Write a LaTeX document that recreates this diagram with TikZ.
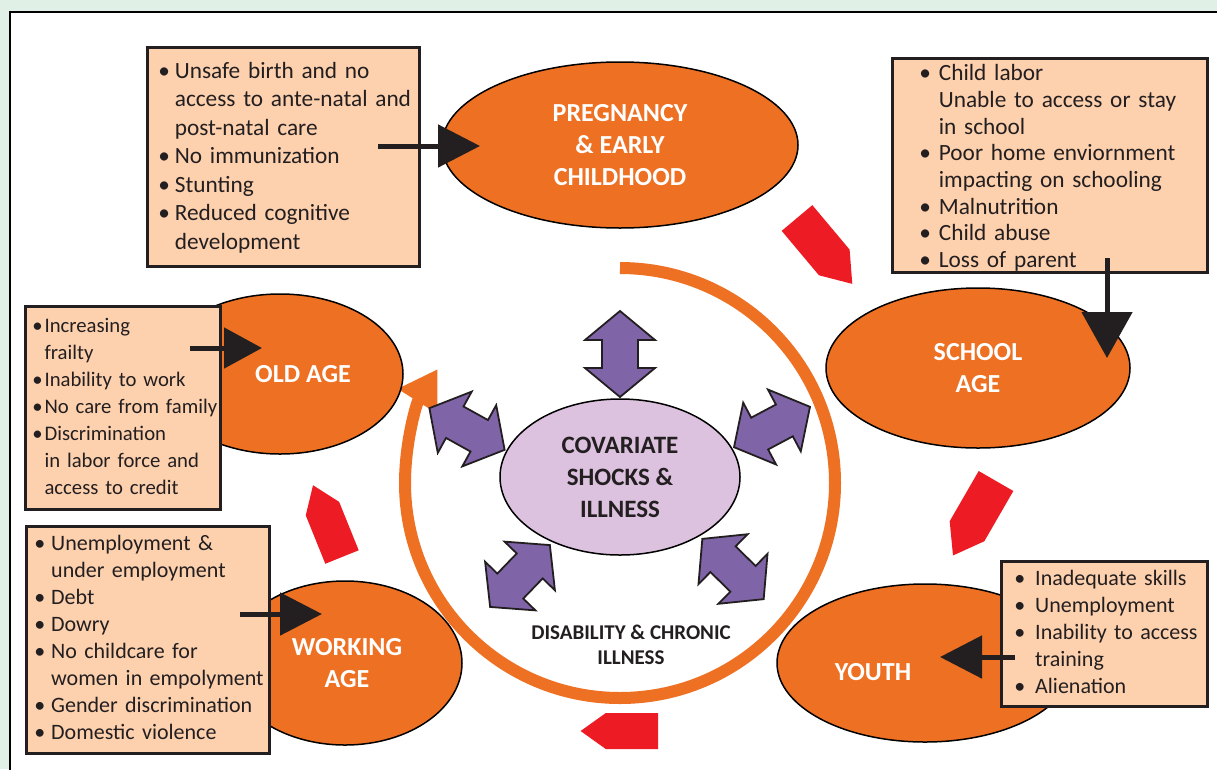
\documentclass[tikz,border=0pt]{standalone}
\usepackage{fontspec}
\setmainfont{Carlito}
\usetikzlibrary{
  shapes.geometric,
  arrows.meta
}

\definecolor{stageorange}{RGB}{238,112,35}
\definecolor{boxpeach}{RGB}{253,208,174}
\definecolor{textdark}{RGB}{35,31,32}
\definecolor{shockpurple}{RGB}{221,194,224}
\definecolor{arrowpurple}{RGB}{128,100,168}
\definecolor{boltred}{RGB}{237,28,36}
\definecolor{bggreen}{RGB}{224,240,230}

\begin{document}
\begin{tikzpicture}[
    x=1pt,y=-1pt,
    stage/.style={ellipse,draw=black,line width=1.5pt,fill=stageorange,inner sep=0pt,
      text=white,align=center,font=\bfseries\fontsize{26}{32}\selectfont},
    stagelabel/.style={text=white,align=center,font=\bfseries\fontsize{26}{32}\selectfont},
    riskbox/.style={draw=textdark,line width=2.5pt,fill=boxpeach,anchor=north west,
      align=left,inner ysep=0pt,text=textdark,font=\fontsize{22}{27}\selectfont},
    pointer/.style={line width=5pt,draw=textdark,-{Triangle[length=42pt,width=42pt]}},
    twoway/.pic={\draw[line width=1.8pt,draw=textdark,fill=arrowpurple]
      (-43,0) -- (-14,-35) -- (-14,-18) -- (14,-18) -- (14,-35) -- (43,0)
      -- (14,35) -- (14,18) -- (-14,18) -- (-14,35) -- cycle;},
    bolt/.pic={\fill[boltred] (0,-20) -- (58,-20) -- (86,0) -- (58,20) -- (0,20) -- cycle;},
  ]
    \useasboundingbox (0,0) rectangle (1217,769);
    \clip (0,0) rectangle (1217,769);
    \fill[bggreen] (0,0) rectangle (1217,769);
    \draw[line width=2.5pt,fill=white] (10,12) rectangle (1240,790);

    % life-cycle ring
    \draw[line width=12pt,stageorange,-{Triangle[length=38pt,width=44pt]}]
      (620,268) arc[start angle=-90,end angle=212,radius=215];

    % red arrows between stages
    \pic[rotate=-50] at (797,218) {bolt};
    \pic[rotate=-120] at (996,481) {bolt};
    \pic[rotate=180,scale=0.9] at (658,731) {bolt};
    \pic[rotate=112,scale=0.9] at (342,557) {bolt};

    % shocks in the middle
    \pic[rotate=90] at (620,354) {twoway};
    \pic[rotate=28] at (772,427) {twoway};
    \pic[rotate=-29] at (467,429) {twoway};
    \pic[rotate=46] at (520,576) {twoway};
    \pic[rotate=-44.5] at (733,569) {twoway};
    \node[ellipse,draw=black,line width=1.5pt,fill=shockpurple,minimum width=240,minimum height=156,
      align=center,text=textdark,font=\bfseries\fontsize{25}{32}\selectfont] (shocks) at (620,477)
      {COVARIATE\\SHOCKS \&\\ILLNESS};
    \node[align=center,text=textdark,font=\bfseries\fontsize{21}{25}\selectfont] (chronic) at (631,645)
      {DISABILITY \& CHRONIC\\ILLNESS};

    % life stages
    \node[stage,minimum width=356,minimum height=166] (early) at (620,145) {PREGNANCY\\\& EARLY\\CHILDHOOD};
    \node[stage,minimum width=304,minimum height=160] (school) at (978,368) {SCHOOL\\AGE};
    \node[stage,minimum width=296,minimum height=158] (youth) at (925,663) {};
    \node[stagelabel] (youthlabel) at (873,672) {YOUTH};
    \node[stage,minimum width=234,minimum height=164] (working) at (345,663) {};
    \node[stagelabel] (workinglabel) at (347,663) {WORKING\\AGE};
    \node[stage,minimum width=246,minimum height=160] (old) at (280,374) {};
    \node[stagelabel] (oldlabel) at (303,374) {OLD AGE};

    % risks at each stage
    \node[riskbox,font=\fontsize{23.3}{28.5}\selectfont,inner xsep=11pt,text width=250pt,minimum height=219] (earlyrisks) at (146,46)
      {\raisebox{-1.5pt}[\height][\depth]{\begin{tabular}{@{}l@{\hspace{5pt}}l@{}}
        \textbullet & Unsafe birth and no\\
         & access to ante-natal and\\
         & post-natal care\\
        \textbullet & No immunization\\
        \textbullet & Stunting\\
        \textbullet & Reduced cognitive\\
         & development
      \end{tabular}}};
    \node[riskbox,font=\fontsize{23.3}{26.7}\selectfont,inner xsep=27pt,text width=261pt,minimum height=214] (schoolrisks) at (891,57)
      {\raisebox{-3.5pt}[\height][\depth]{\begin{tabular}{@{}l@{\hspace{8pt}}l@{}}
        \textbullet & Child labor\\
         & Unable to access or stay\\
         & in school\\
        \textbullet & Poor home enviornment\\
         & impacting on schooling\\
        \textbullet & Malnutrition\\
        \textbullet & Child abuse\\
        \textbullet & Loss of parent
      \end{tabular}}};
    \node[riskbox,font=\fontsize{20.7}{27}\selectfont,inner xsep=7pt,text width=181pt,minimum height=203] (oldrisks) at (24,305)
      {\begin{tabular}{@{}l@{\hspace{2pt}}l@{}}
        \textbullet & Increasing\\
         & frailty\\
        \textbullet & Inability to work\\
        \textbullet & No care from family\\
        \textbullet & Discrimination\\
         & in labor force and\\
         & access to credit
      \end{tabular}};
    \node[riskbox,inner xsep=8pt,text width=227pt,minimum height=227] (workrisks) at (25,525)
      {\begin{tabular}{@{}l@{\hspace{6pt}}l@{}}
        \textbullet & Unemployment \&\\
         & under employment\\
        \textbullet & Debt\\
        \textbullet & Dowry\\
        \textbullet & No childcare for\\
         & women in empolyment\\
        \textbullet & Gender discrimination\\
        \textbullet & Domestic violence
      \end{tabular}};
    \node[riskbox,inner xsep=13pt,text width=180pt,minimum height=145] (youthrisks) at (1000,560)
      {\begin{tabular}{@{}l@{\hspace{10pt}}l@{}}
        \textbullet & Inadequate skills\\
        \textbullet & Unemployment\\
        \textbullet & Inability to access\\
         & training\\
        \textbullet & Alienation
      \end{tabular}};

    % pointers from risks to stages
    \coordinate (earlyfrom) at (378,146);
    \coordinate (earlyto) at (480,146);
    \coordinate (schoolfrom) at (1107,258);
    \coordinate (schoolto) at (1107,358);
    \coordinate (youthfrom) at (1015,657);
    \coordinate (youthto) at (940,657);
    \coordinate (workfrom) at (240,614);
    \coordinate (workto) at (322,614);
    \coordinate (oldfrom) at (190,348);
    \coordinate (oldto) at (262,348);
    \draw[pointer] (earlyfrom) -- (earlyto);
    \draw[pointer,-{Triangle[length=46pt,width=50pt]}] (schoolfrom) -- (schoolto);
    \draw[pointer] (youthfrom) -- (youthto);
    \draw[pointer] (workfrom) -- (workto);
    \draw[pointer,-{Triangle[length=38pt,width=40pt]}] (oldfrom) -- (oldto);
\end{tikzpicture}
\end{document}
